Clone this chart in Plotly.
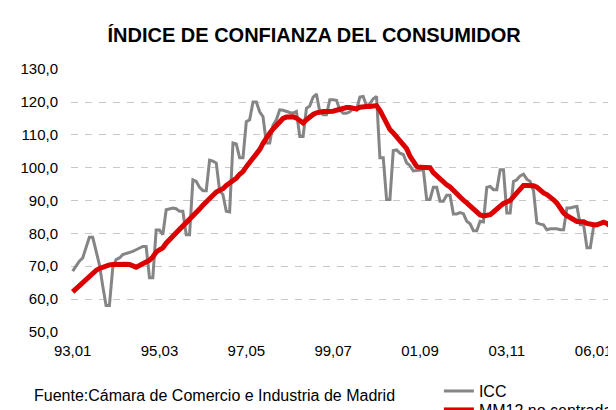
import plotly.graph_objects as go

# ICC monthly values, Jan 1993 .. Jun 2006
icc = [68.5, 70, 71.5, 72.5, 75.5, 78.8, 78.8, 75, 70.5, 64, 58, 58,
       69.5, 72, 72.5, 73.5, 73.8, 74, 74.5, 75, 75.5, 76, 76, 66.5,
       66.5, 81, 81, 79.6, 87.2, 87.5, 87.7, 87.5, 86.7, 86.7, 79.6, 79.6,
       96.3, 95.8, 94, 93, 93, 102.3, 102, 101.4, 93, 91.8, 86.7, 86.5,
       107.5, 107.2, 103, 103, 114, 114.6, 120, 120, 117, 115.5, 107.5, 107.5,
       113, 114.6, 117.6, 117.5, 117.1, 116.8, 116.6, 117.1, 109.5, 109.5, 118.1, 118.8,
       121.5, 122.4, 117, 116.1, 116.1, 120.7, 120.7, 120.5, 117.6, 116.6, 116.6, 117,
       118.1, 117.6, 121.5, 121.7, 118.8, 119.5, 121, 121.7, 103, 103, 90.3, 90.3,
       105.2, 105.4, 104.4, 104, 101.5, 100.6, 99, 99.2, 99.4, 99.4, 90.3, 90.3,
       94, 94, 89.8, 89.8, 91.6, 91.6, 85.9, 85.9, 86.3, 86, 83.7, 82.9,
       80.8, 80.8, 83.7, 83.5, 94, 94.3, 93.3, 93.3, 99.4, 99.4, 86.2, 86.2,
       95.8, 96.3, 97.5, 98, 96.5, 95.8, 93, 83.2, 82.8, 82.6, 81.1, 81.4,
       81.4, 81.4, 81.1, 81.1, 87.7, 87.7, 88, 88.2, 82.6, 82.6, 75.6, 75.6,
       82.1, 82.4, 83, 83.2, 83.2, 82.4]

# 12-month trailing moving average
mm12 = [62.2, 63.2, 64.2, 65.2, 66.2, 67.2, 68, 68.7, 69.3, 69.8, 70.1, 70.4,
        70.5, 70.6, 70.6, 70.6, 70.6, 70.5, 70.1, 69.7, 70.2, 70.7, 71, 71.8,
        72.8, 74.3, 75, 75.6, 77, 78.2, 79.2, 80.2, 81.2, 82.2, 83.1, 84.1,
        85, 86.2, 87.4, 88.6, 89.7, 90.8, 91.8, 92.6, 93.1, 93.6, 94.6, 95.2,
        96, 96.8, 98, 98.8, 100.3, 101.5, 102.8, 103.8, 105.5, 107.4, 109.3, 110.5,
        111.8, 112.8, 113.8, 115, 115.4, 115.6, 115.5, 115.1, 114.3, 113.6, 114.6, 115.5,
        116.2, 116.7, 117, 117.1, 117.1, 117.1, 117.2, 117.5, 117.8, 118.1, 118.3, 118.3,
        118.1, 117.9, 118.4, 118.6, 118.6, 118.6, 118.7, 118.9, 117.5, 115.5, 113, 111.6,
        110.6, 109.4, 108.5, 107.3, 105.8, 103.5, 101.8, 100.4, 100.1, 100, 100, 100,
        98.5, 97.5, 96.5, 95.4, 94.8, 94.1, 93, 92.2, 91.2, 90.1, 89.3, 88.4,
        87.5, 86.4, 85.6, 85.3, 85.5, 85.7, 86.5, 87.2, 88.3, 89.1, 89.4, 90,
        91.2, 92.5, 93.8, 94.6, 94.6, 94.6, 94.5, 94.1, 93, 92.3, 91.8, 91.1,
        90.2, 89.2, 87.3, 86.2, 85.4, 84.7, 84.1, 83.6, 83.5, 83.5, 83, 82.6,
        82.6, 82.6, 83, 83.4, 83, 82.2]

months = [f"{(1993 + m // 12) % 100:02d},{m % 12 + 1:02d}" for m in range(len(icc))]
tick_labels = ["93,01", "95,03", "97,05", "99,07", "01,09", "03,11", "06,01"]
y_ticks = [50, 60, 70, 80, 90, 100, 110, 120, 130]

FONT = "Liberation Sans, Arial, sans-serif"

fig = go.Figure()
fig.add_trace(go.Scatter(x=months, y=icc, mode="lines", name="ICC",
                         line=dict(color="#858585", width=3), legend="legend"))
fig.add_trace(go.Scatter(x=months, y=mm12, mode="lines", name="MM12 no centrada",
                         line=dict(color="#dc0000", width=5), legend="legend2"))

legend_common = dict(x=0.68, xanchor="left", yanchor="top",
                     bgcolor="rgba(0,0,0,0)", font=dict(size=16, color="black"),
                     itemwidth=30)

fig.update_layout(
    width=616, height=410,
    paper_bgcolor="white", plot_bgcolor="white",
    separators=",.",
    font=dict(family=FONT, size=16, color="black"),
    margin=dict(l=63, r=12, t=61, b=86, autoexpand=False),
    title=dict(text="<b>ÍNDICE DE CONFIANZA DEL CONSUMIDOR</b>",
               font=dict(family=FONT, size=20, color="black"),
               x=0.497, xref="container", xanchor="center",
               y=1 - 27 / 410, yref="container", yanchor="middle"),
    xaxis=dict(type="category", range=[-0.5, len(icc) - 0.5],
               tickmode="array", tickvals=tick_labels, ticktext=tick_labels,
               showgrid=False, showline=False, zeroline=False, ticks="",
               ticklabelstandoff=8, tickfont=dict(size=15)),
    yaxis=dict(range=[49.95, 130.05], tickvals=y_ticks, tickformat=".1f",
               showgrid=True, gridcolor="#c8c8c8", gridwidth=1, griddash="7px,7px",
               showline=False, zeroline=False, ticks="", ticklabelstandoff=12,
               tickfont=dict(size=15)),
    showlegend=True,
    legend=dict(y=-0.160, **legend_common),
    legend2=dict(y=-0.232, **legend_common),
    annotations=[dict(text="Fuente:Cámara de Comercio e Industria de Madrid",
                      xref="paper", yref="paper", x=-0.073, y=-0.243,
                      xanchor="left", yanchor="middle", showarrow=False,
                      font=dict(size=16, color="black"))],
)

fig.write_html("out.html")
